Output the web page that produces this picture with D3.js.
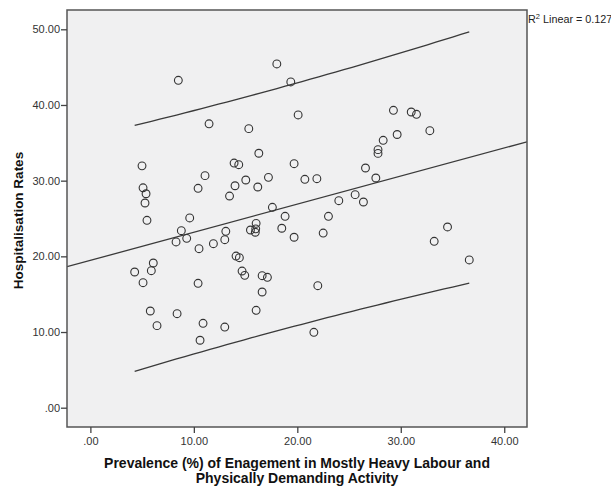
<!DOCTYPE html>
<html>
<head>
<meta charset="utf-8">
<script src="https://cdn.jsdelivr.net/npm/d3@7"></script>
<style>
  html, body { margin: 0; padding: 0; background: #ffffff; }
  svg { display: block; }
  text { font-family: "Liberation Sans", Arial, sans-serif; }
</style>
</head>
<body>
<svg id="chart" width="611" height="487"></svg>
<script>
// Prevalence of heavy labour (%) per area
const prevalence = [
  8.50, 11.47, 4.99, 5.09, 5.38, 5.28, 5.47, 11.08, 10.41, 9.60,
  8.79, 9.31, 8.28, 10.50, 11.89, 13.09, 12.99, 13.45, 18.02, 19.37,
  15.31, 20.08, 16.28, 13.89, 14.34, 19.69, 15.02, 17.21, 13.98, 16.18,
  20.73, 21.89, 29.29, 29.65, 28.30, 27.80, 27.80, 26.59, 27.59, 25.59,
  24.01, 26.39, 17.59, 18.82, 23.01, 16.02, 15.47, 15.98, 15.94, 18.50,
  19.69, 22.50, 14.08, 14.40, 31.01, 31.52, 32.81, 34.52, 33.23, 36.62,
  6.08, 5.89, 4.28, 5.09, 10.41, 5.79, 8.38, 6.44, 10.89, 12.99,
  10.60, 14.66, 14.92, 16.60, 17.11, 16.60, 21.98, 16.02, 21.60
];

// Hospitalisation rates for the same areas
const hospitalisation = [
  43.26, 37.51, 31.96, 29.06, 28.27, 27.05, 24.76, 30.66, 28.99, 25.07,
  23.39, 22.38, 21.90, 21.01, 21.67, 23.31, 22.20, 27.97, 45.42, 43.04,
  36.87, 38.68, 33.62, 32.33, 32.11, 32.24, 30.09, 30.44, 29.33, 29.16,
  30.18, 30.26, 39.30, 36.10, 35.33, 34.10, 33.60, 31.67, 30.35, 28.15,
  27.35, 27.18, 26.48, 25.29, 25.29, 24.36, 23.48, 23.63, 23.18, 23.71,
  22.52, 23.08, 20.04, 19.82, 39.07, 38.77, 36.60, 23.88, 21.99, 19.52,
  19.12, 18.10, 17.93, 16.52, 16.44, 12.78, 12.42, 10.84, 11.15, 10.66,
  8.91, 18.06, 17.49, 17.44, 17.23, 15.29, 16.12, 12.87, 9.96
];

const xTicks = [0, 10, 20, 30, 40];
const yTicks = [0, 10, 20, 30, 40, 50];
const xDomain = [-2.26, 42.2];
const yDomain = [-2.55, 52.55];
const r2Label = "0.127";

const xTitleLines = [
  "Prevalence (%) of Enagement in Mostly Heavy Labour and",
  "Physically Demanding Activity"
];
const yTitle = "Hospitalisation Rates";

// ---- layout ----
const plot = { left: 67, right: 527, top: 10, bottom: 427 };

const svg = d3.select("#chart");
const x = d3.scaleLinear().domain(xDomain).range([plot.left, plot.right]);
const y = d3.scaleLinear().domain(yDomain).range([plot.bottom, plot.top]);

const fmt = d => d3.format(".2f")(d).replace(/^0\./, ".");

// plot background
svg.append("rect")
  .attr("x", plot.left).attr("y", plot.top)
  .attr("width", plot.right - plot.left)
  .attr("height", plot.bottom - plot.top)
  .attr("fill", "#f0f0f1");

// ---- least squares fit and 95% prediction interval ----
const pts = prevalence.map((v, i) => ({ x: v, y: hospitalisation[i] }));
const n = pts.length;
const mx = d3.mean(pts, d => d.x);
const my = d3.mean(pts, d => d.y);
const sxx = d3.sum(pts, d => (d.x - mx) ** 2);
const sxy = d3.sum(pts, d => (d.x - mx) * (d.y - my));
const slope = sxy / sxx;
const intercept = my - slope * mx;
const sse = d3.sum(pts, d => (d.y - (intercept + slope * d.x)) ** 2);
const s = Math.sqrt(sse / (n - 2));
const tCrit = 1.992;
const xmin = d3.min(prevalence), xmax = d3.max(prevalence);
const grid = d3.range(0, 41).map(i => xmin + (xmax - xmin) * i / 40);
const half = xv => tCrit * s * Math.sqrt(1 + 1 / n + (xv - mx) ** 2 / sxx);

const lineGen = d3.line().x(d => x(d[0])).y(d => y(d[1]));

svg.append("clipPath").attr("id", "plotclip")
  .append("rect")
  .attr("x", plot.left).attr("y", plot.top)
  .attr("width", plot.right - plot.left)
  .attr("height", plot.bottom - plot.top);

const lines = svg.append("g").attr("clip-path", "url(#plotclip)")
  .attr("fill", "none").attr("stroke", "#3a3a3a").attr("stroke-width", 1.3);

lines.append("path")
  .attr("d", lineGen(xDomain.map(xv => [xv, intercept + slope * xv])));
lines.append("path")
  .attr("d", lineGen(grid.map(xv => [xv, intercept + slope * xv + half(xv)])));
lines.append("path")
  .attr("d", lineGen(grid.map(xv => [xv, intercept + slope * xv - half(xv)])));

// ---- points ----
svg.append("g")
  .selectAll("circle")
  .data(pts)
  .join("circle")
  .attr("cx", d => x(d.x))
  .attr("cy", d => y(d.y))
  .attr("r", 3.9)
  .attr("fill", "none")
  .attr("stroke", "#333333")
  .attr("stroke-width", 1.1);

// ---- frame ----
svg.append("rect")
  .attr("x", plot.left).attr("y", plot.top)
  .attr("width", plot.right - plot.left)
  .attr("height", plot.bottom - plot.top)
  .attr("fill", "none")
  .attr("stroke", "#555555")
  .attr("stroke-width", 1.5);

// ---- axes ----
const xAxis = svg.append("g")
  .attr("transform", `translate(0,${plot.bottom})`)
  .call(d3.axisBottom(x).tickValues(xTicks).tickFormat(fmt).tickSize(6).tickSizeOuter(0));
const yAxis = svg.append("g")
  .attr("transform", `translate(${plot.left},0)`)
  .call(d3.axisLeft(y).tickValues(yTicks).tickFormat(fmt).tickSize(6).tickSizeOuter(0));

[xAxis, yAxis].forEach(g => {
  g.select(".domain").remove();
  g.selectAll(".tick line").attr("stroke", "#444").attr("stroke-width", 1.3);
  g.selectAll(".tick text")
    .attr("fill", "#333")
    .style("font-size", "11px")
    .style("font-family", "'Liberation Sans', Arial, sans-serif");
});
xAxis.selectAll(".tick text").attr("dy", "0.71em").attr("y", 10);
yAxis.selectAll(".tick text").attr("x", -7);

// ---- titles ----
const xTitle = svg.append("text")
  .attr("x", (plot.left + plot.right) / 2)
  .attr("y", 468)
  .attr("text-anchor", "middle")
  .attr("font-weight", "bold")
  .attr("font-size", 14)
  .attr("fill", "#111");
xTitleLines.forEach((t, i) => {
  xTitle.append("tspan")
    .attr("x", (plot.left + plot.right) / 2)
    .attr("dy", i === 0 ? 0 : 14.5)
    .text(t);
});

svg.append("text")
  .attr("transform", `translate(23,${(plot.top + plot.bottom) / 2 + 2}) rotate(-90)`)
  .attr("text-anchor", "middle")
  .attr("font-weight", "bold")
  .attr("font-size", 13.5)
  .attr("fill", "#111")
  .text(yTitle);

// ---- R squared label ----
const r2 = svg.append("text")
  .attr("x", plot.right + 1)
  .attr("y", 23)
  .attr("font-size", 10.8)
  .attr("fill", "#222");
r2.append("tspan").text("R");
r2.append("tspan").attr("font-size", 7.5).attr("dy", -4).text("2");
r2.append("tspan").attr("dy", 4).text(" Linear = " + r2Label);
</script>
</body>
</html>
